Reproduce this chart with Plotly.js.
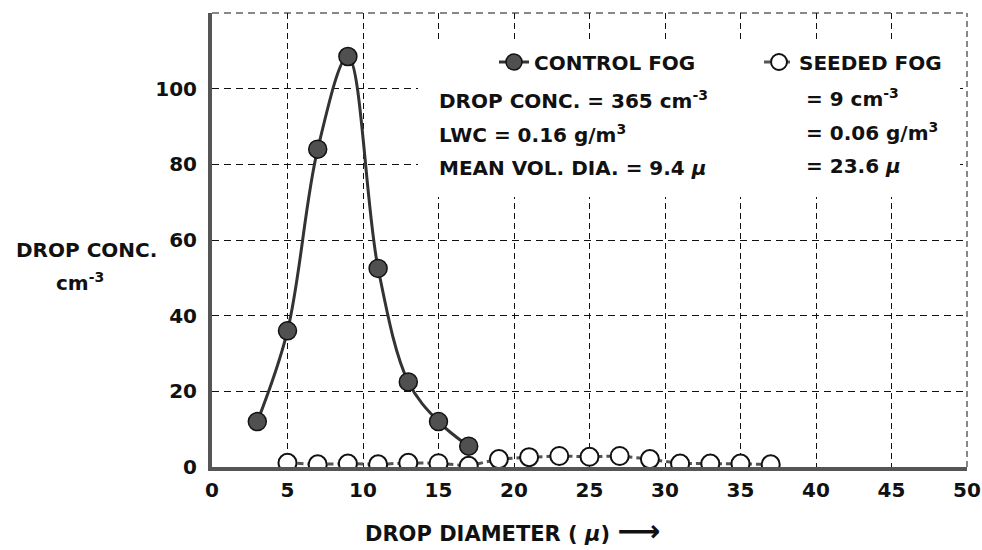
<!DOCTYPE html>
<html>
<head>
<meta charset="utf-8">
<script src="https://cdn.plot.ly/plotly-3.0.1.min.js"></script>
<style>html,body{margin:0;padding:0;background:#fff;}#chart{width:982px;height:550px;}</style>
</head>
<body>
<div id="chart"></div>
<script>
// Data
var controlX = [3, 5, 7, 9, 11, 13, 15, 17];
var controlY = [12, 36, 84, 108.5, 52.5, 22.5, 12, 5.5];
var seededX = [5, 7, 9, 11, 13, 15, 17, 19, 21, 23, 25, 27, 29, 31, 33, 35, 37];
var seededY = [1.1, 0.7, 0.9, 0.7, 1.1, 1.0, 0.3, 2.1, 2.6, 2.9, 2.7, 2.9, 2.1, 0.9, 0.9, 0.9, 0.7];
var xTickVals = [0, 5, 10, 15, 20, 25, 30, 35, 40, 45, 50];
var xTickText = ['0', '5', '10', '15', '20', '25', '30', '35', '40', '45', '50'];
var yTickVals = [0, 20, 40, 60, 80, 100];
var yTickText = ['0', '20', '40', '60', '80', '100'];
var seriesNames = ['CONTROL FOG', 'SEEDED FOG'];
var statsControl = ['DROP CONC. = 365 cm<sup>-3</sup>', 'LWC = 0.16 g/m<sup>3</sup>', 'MEAN VOL. DIA. = 9.4 <i>μ</i>'];
var statsSeeded = ['= 9 cm<sup>-3</sup>', '= 0.06 g/m<sup>3</sup>', '= 23.6 <i>μ</i>'];

var F = 'DejaVu Sans';
var txt = {family: F, size: 20, color: '#111', weight: 'bold'};

var traces = [
  {
    x: controlX, y: controlY, name: seriesNames[0], type: 'scatter', mode: 'lines+markers',
    line: {shape: 'spline', smoothing: 1, color: '#333', width: 3},
    marker: {size: 18, color: '#505050', line: {color: '#111', width: 1.5}}
  },
  {
    x: seededX, y: seededY, name: seriesNames[1], type: 'scatter', mode: 'lines+markers',
    line: {color: '#555', width: 3, dash: '6px,4px'},
    marker: {size: 18, color: '#fff', line: {color: '#111', width: 2}}
  }
];

var L = 212, R = 967, T = 13, B = 467;
var XMAX = 50, YMAX = 120;
function px(v) { return (v - L) / (R - L); }
function py(v) { return (B - v) / (B - T); }
function dx(v) { return (v - L) / (R - L) * XMAX; }
function dy(v) { return (B - v) / (B - T) * YMAX; }

var annotations = [];
var rowsY = [100, 134, 168];
for (var i = 0; i < 3; i++) {
  annotations.push({xref: 'paper', yref: 'paper', x: px(437), y: py(rowsY[i]), xanchor: 'left', yanchor: 'middle',
    text: statsControl[i], showarrow: false, font: txt});
  annotations.push({xref: 'paper', yref: 'paper', x: px(804), y: py(rowsY[i] - 2), xanchor: 'left', yanchor: 'middle',
    text: statsSeeded[i], showarrow: false, font: txt});
}
annotations.push({xref: 'paper', yref: 'paper', x: px(363), y: py(530), xanchor: 'left', yanchor: 'middle',
  text: 'DROP DIAMETER ( <i>μ</i>) <span style="font-size:30px">⟶</span>', showarrow: false,
  font: {family: F, size: 21, color: '#111', weight: 'bold'}});
annotations.push({xref: 'paper', yref: 'paper', x: px(86), y: py(250), xanchor: 'center', yanchor: 'middle',
  text: 'DROP CONC.', showarrow: false, font: txt});
annotations.push({xref: 'paper', yref: 'paper', x: px(80), y: py(282), xanchor: 'center', yanchor: 'middle',
  text: 'cm<sup>-3</sup>', showarrow: false, font: txt});

var layout = {
  width: 982, height: 550,
  margin: {l: L, r: 982 - R, t: T, b: 550 - B, pad: 0, autoexpand: false},
  paper_bgcolor: '#fff', plot_bgcolor: '#fff',
  showlegend: true,
  legend: {orientation: 'h', x: px(494), y: py(62), xanchor: 'left', yanchor: 'middle',
    font: txt, bgcolor: 'rgba(0,0,0,0)', entrywidth: 220, entrywidthmode: 'pixels', traceorder: 'normal'},
  xaxis: {
    range: [0, XMAX], tickmode: 'array', tickvals: xTickVals, ticktext: xTickText,
    showgrid: true, gridcolor: '#111', gridwidth: 1, griddash: '6px,4px',
    showline: true, linecolor: '#555', linewidth: 4, zeroline: false, automargin: false,
    ticks: '', ticklabelstandoff: 2, tickfont: txt, fixedrange: true
  },
  yaxis: {
    range: [0, YMAX], tickmode: 'array', tickvals: yTickVals, ticktext: yTickText,
    showgrid: true, gridcolor: '#111', gridwidth: 1, griddash: '7px,5px',
    showline: true, linecolor: '#555', linewidth: 4, zeroline: false, automargin: false,
    ticks: '', ticklabelstandoff: 7, tickfont: txt, fixedrange: true
  },
  shapes: [
    {type: 'rect', xref: 'x', yref: 'y', layer: 'between',
      x0: dx(418), x1: dx(960), y0: dy(197), y1: dy(43), fillcolor: '#fff', line: {width: 0}},
    {type: 'line', xref: 'paper', yref: 'paper', layer: 'below', x0: 0, x1: 1, y0: 1, y1: 1,
      line: {color: '#111', width: 1, dash: '7px,5px'}},
    {type: 'line', xref: 'paper', yref: 'paper', layer: 'below', x0: 1, x1: 1, y0: 0, y1: 1,
      line: {color: '#111', width: 1, dash: '6px,4px'}}
  ],
  annotations: annotations
};

Plotly.newPlot('chart', traces, layout, {staticPlot: true, displayModeBar: false});
</script>
</body>
</html>
